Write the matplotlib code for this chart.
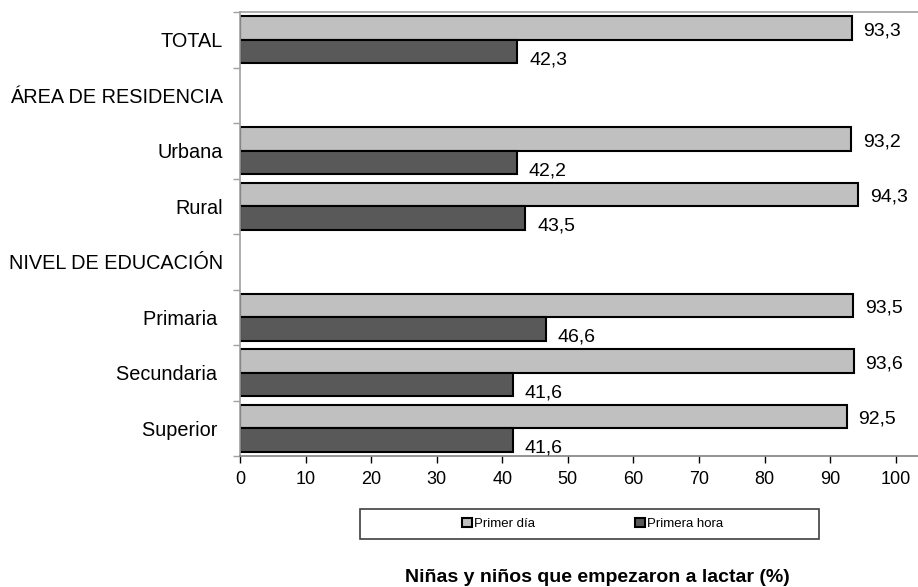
import numpy as np
import matplotlib
matplotlib.use("Agg")
import matplotlib.pyplot as plt
from matplotlib import font_manager
from matplotlib.patches import Rectangle, Patch

# --- datos ---
categorias = ["TOTAL", "ÁREA DE RESIDENCIA", "Urbana", "Rural",
              "NIVEL DE EDUCACIÓN", "Primaria ", "Secundaria ", "Superior "]
primer_dia = [93.3, np.nan, 93.2, 94.3, np.nan, 93.5, 93.6, 92.5]
primera_hora = [42.3, np.nan, 42.2, 43.5, np.nan, 46.6, 41.6, 41.6]
x_ticks = list(range(0, 101, 10))
series = ["Primer día", "Primera hora"]
titulo = "Niñas y niños que empezaron a lactar (%)"

# fuentes
nombres = {f.name for f in font_manager.fontManager.ttflist}
base = "Liberation Sans" if "Liberation Sans" in nombres else "DejaVu Sans"
narrow = "Liberation Sans Narrow" if "Liberation Sans Narrow" in nombres else base
plt.rcParams["font.family"] = [base, "DejaVu Sans"]

c_claro = "#c0c0c0"
c_oscuro = "#595959"

fig = plt.figure(figsize=(9.18, 5.87), dpi=100)
ax = fig.add_axes([240 / 918, 131 / 587, 678 / 918, 444 / 587])

y = np.arange(len(categorias))
alto = 0.42
ax.barh(y - 0.21, primer_dia, height=alto, color=c_claro,
        edgecolor="black", linewidth=1.5, label=series[0])
ax.barh(y + 0.21, primera_hora, height=alto, color=c_oscuro,
        edgecolor="black", linewidth=1.5, label=series[1])

def fmt(v):
    return f"{v:.1f}".replace(".", ",")

for yi, v in zip(y, primer_dia):
    if not np.isnan(v):
        ax.annotate(fmt(v), (v, yi - 0.21), xytext=(8.5, -2),
                    textcoords="offset points", ha="left", va="center",
                    fontsize=14)
for yi, v in zip(y, primera_hora):
    if not np.isnan(v):
        ax.annotate(fmt(v), (v, yi + 0.21), xytext=(8.5, -6),
                    textcoords="offset points", ha="left", va="center",
                    fontsize=14)

ax.set_xlim(0, 103.4)
ax.set_ylim(len(categorias) - 0.5, -0.5)
ax.set_xticks(x_ticks)
ax.set_xticklabels([str(t) for t in x_ticks], fontsize=13)
ax.set_yticks(y)
ax.set_yticklabels(categorias, fontsize=14.3)
ax.set_yticks(np.arange(-0.5, len(categorias), 1), minor=True)
ax.tick_params(axis="y", which="major", length=0, pad=12.5)
ax.tick_params(axis="y", which="minor", length=5, color="#a0a0a0", width=1)
ax.tick_params(axis="x", length=5, width=1, color="black", pad=6)

ax.spines["right"].set_visible(False)
for lado in ["left", "top"]:
    ax.spines[lado].set_color("#a0a0a0")
    ax.spines[lado].set_linewidth(1.2)
ax.spines["bottom"].set_color("#808080")
ax.spines["bottom"].set_linewidth(1.2)

# leyenda con marco propio
fig.patches.append(Rectangle((360 / 918, 1 - 539 / 587), 459 / 918, 30 / 587,
                             transform=fig.transFigure, fill=False,
                             edgecolor="#404040", linewidth=1.2))
handles = [Patch(facecolor=c_claro, edgecolor="black", linewidth=1.5),
           Patch(facecolor=c_oscuro, edgecolor="black", linewidth=1.5)]
fig.legend(handles, series, loc="center left",
           bbox_to_anchor=(462 / 918, 1 - 524 / 587), ncol=2, frameon=False,
           prop={"family": narrow, "size": 9.5}, handlelength=0.75,
           handleheight=0.75, handletextpad=0.15, columnspacing=7.6,
           borderaxespad=0, borderpad=0)

fig.text(597 / 918, 1 - 577 / 587, titulo, ha="center", va="center",
         fontsize=14, fontweight="bold", family=[narrow, "DejaVu Sans"])

fig.savefig("out.png", dpi=100)
